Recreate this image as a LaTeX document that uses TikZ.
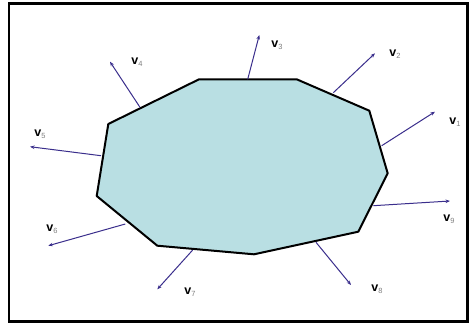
\documentclass[tikz,border=0pt]{standalone}
\usepackage{fontspec}
\setmainfont{Liberation Sans}
\usetikzlibrary{arrows.meta}
\definecolor{fillc}{HTML}{B9DFE3}
\definecolor{arrc}{HTML}{3A2E8C}
\definecolor{subc}{HTML}{808080}
\tikzset{
  vec/.style={draw=arrc, line width=1pt, -{Stealth[length=4.5pt,width=3.5pt]}},
  lab/.style={inner sep=0pt, font=\fontsize{12.5}{12}\selectfont\bfseries},
  pt/.style={coordinate}
}
\newcommand{\vlab}[1]{v\textcolor{subc}{\fontsize{7.5}{7}\selectfont\mdseries\raisebox{-2pt}{#1}}}
\begin{document}
\begin{tikzpicture}[x=1pt,y=-1pt]
\useasboundingbox (0,0) rectangle (472,325);
\fill[white] (0,0) rectangle (472,325);
\draw[line width=2.5pt] (9,3.5) rectangle (467.5,321.5);
% polygon
\draw[fill=fillc, line width=2pt, line join=round]
  (199,79.3) -- (296.7,79.3) -- (369.3,110.7) -- (387.7,173.3) -- (358.3,231.7)
  -- (254,254.3) -- (157.3,245.7) -- (96.7,196) -- (108.3,124) -- cycle;
% start points on edges
\coordinate (s1) at (381.7,145.7);
\coordinate (s2) at (333.3,92.7);
\coordinate (s3) at (247.7,79.3);
\coordinate (s4) at (140,107.3);
\coordinate (s5) at (101,155.7);
\coordinate (s6) at (125.3,224);
\coordinate (s7) at (192.7,250);
\coordinate (s8) at (316,242.3);
\coordinate (s9) at (373.3,205.7);
% tips
\coordinate (e1) at (435,111.7);
\coordinate (e2) at (375,53.3);
\coordinate (e3) at (259.3,35);
\coordinate (e4) at (110,61.7);
\coordinate (e5) at (30,146.7);
\coordinate (e6) at (48.3,245.7);
\coordinate (e7) at (157.3,289.3);
\coordinate (e8) at (351,285);
\coordinate (e9) at (450,201);
\foreach \i in {1,...,9} { \draw[vec] (s\i) -- (e\i); }
% labels
\node[lab] (l1) at (455,122) {\vlab{1}};
\node[lab] (l2) at (395,54) {\vlab{2}};
\node[lab] (l3) at (277,45) {\vlab{3}};
\node[lab] (l4) at (137,62) {\vlab{4}};
\node[lab] (l5) at (40,134) {\vlab{5}};
\node[lab] (l6) at (52,229) {\vlab{6}};
\node[lab] (l7) at (190,292) {\vlab{7}};
\node[lab] (l8) at (377,289) {\vlab{8}};
\node[lab] (l9) at (449,219) {\vlab{9}};
\end{tikzpicture}
\end{document}
